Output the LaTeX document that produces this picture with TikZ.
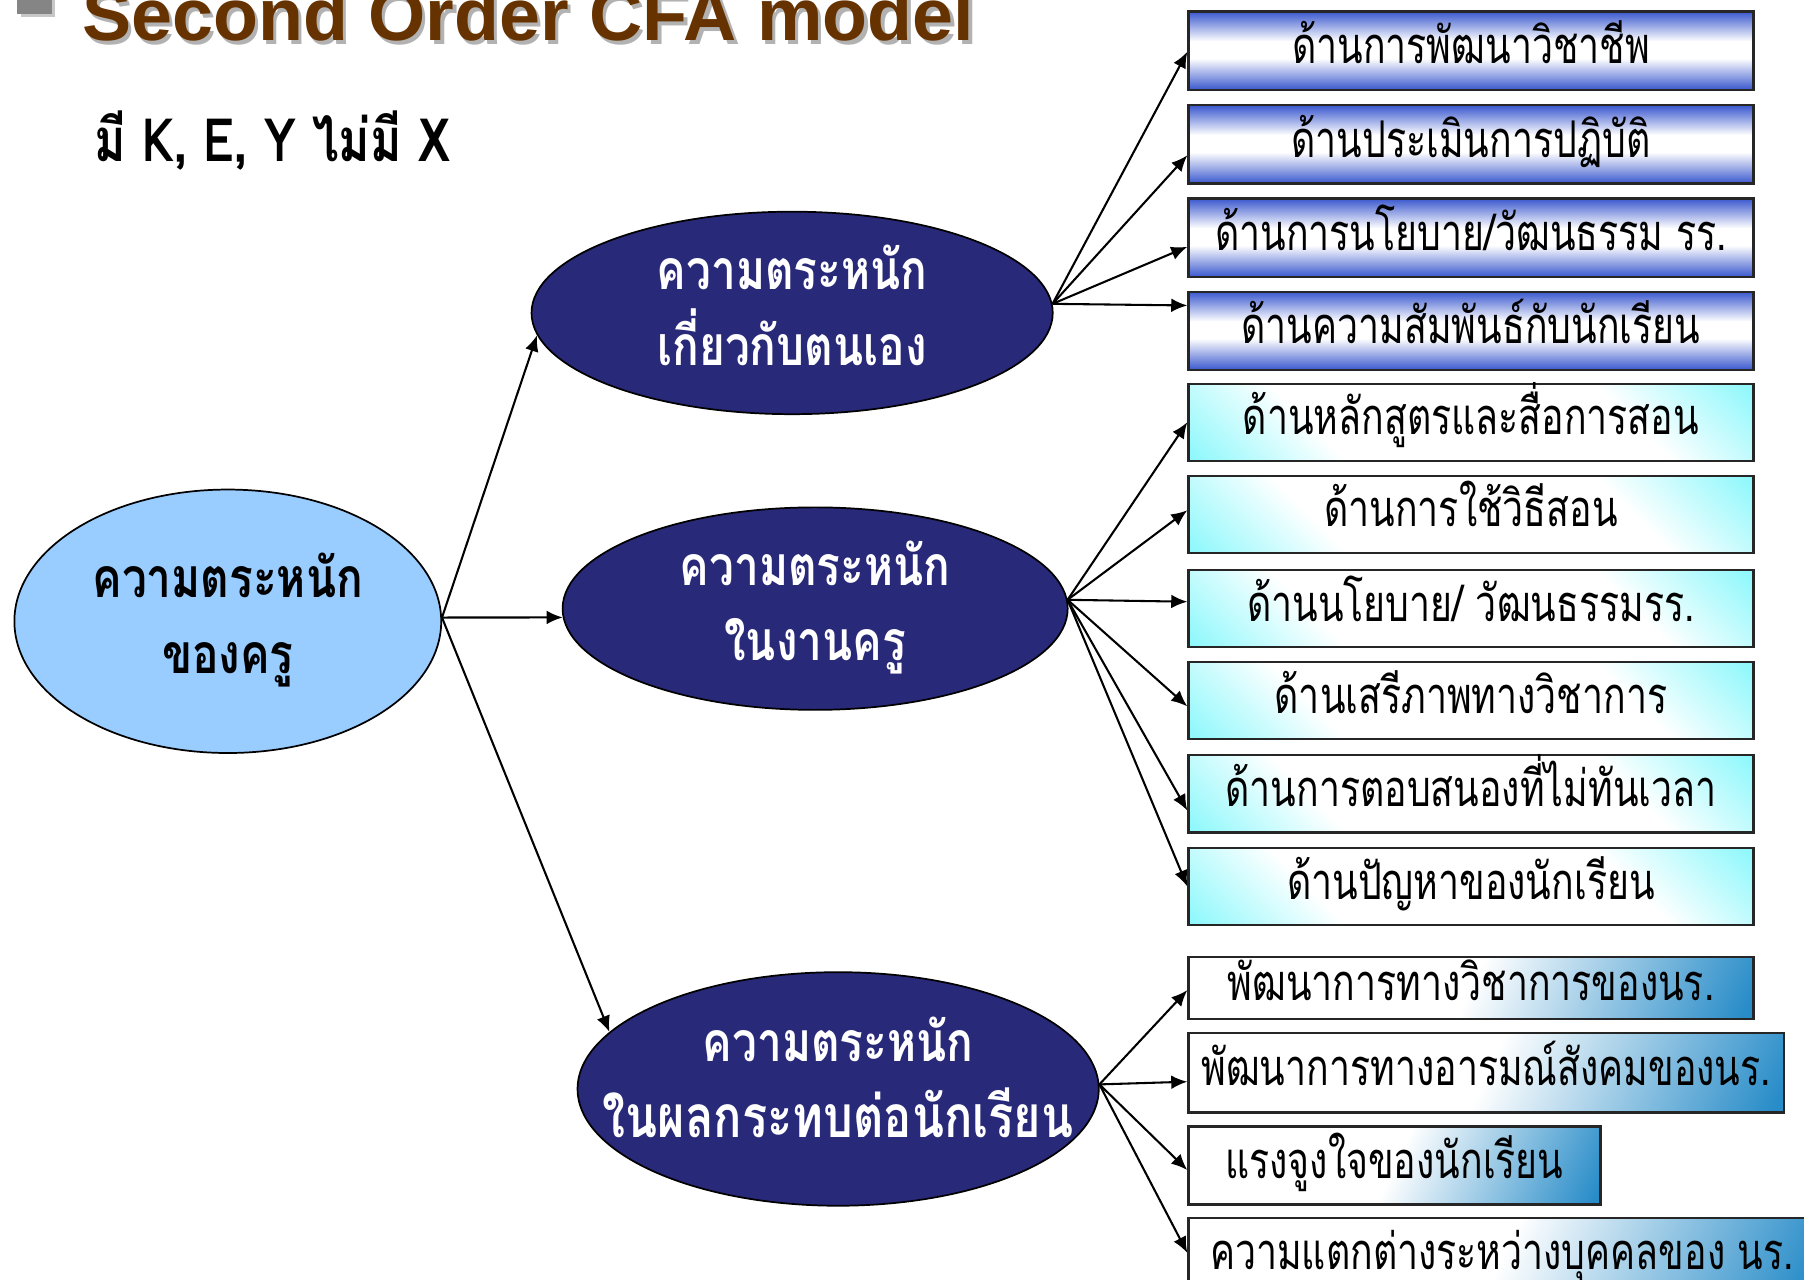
\documentclass[tikz,border=0pt]{standalone}
\usepackage{fontspec}
\usetikzlibrary{arrows.meta,shapes.geometric}
\newfontfamily\thai[Script=Thai,FakeStretch=0.8]{Loma}
\newfontfamily\thaibox[Script=Thai,FakeStretch=0.74]{Loma}
\newfontfamily\titlef{Liberation Sans}
\definecolor{navy}{RGB}{41,41,121}
\definecolor{lblue}{RGB}{153,204,255}
\definecolor{ablue}{RGB}{58,88,206}
\definecolor{bcyan}{RGB}{95,245,250}
\definecolor{cblue}{RGB}{40,140,200}
\definecolor{tbrown}{RGB}{102,51,0}
\pgfdeclarehorizontalshading{cgrad}{100bp}{color(0bp)=(white); color(50bp)=(white); color(82bp)=(cblue); color(100bp)=(cblue)}
\pgfdeclareverticalshading{bgrad}{100bp}{color(0bp)=(bcyan); color(8bp)=(bcyan); color(32bp)=(white); color(68bp)=(white); color(92bp)=(bcyan); color(100bp)=(bcyan)}
\pgfdeclareverticalshading{agrad}{100bp}{color(0bp)=(ablue); color(25bp)=(ablue); color(45bp)=(white); color(56bp)=(white); color(75bp)=(ablue); color(100bp)=(ablue)}
\newcommand\tst{\rule[-7.5pt]{0pt}{27.5pt}}
\tikzset{
 boxbase/.style={rectangle, draw=black!85, line width=1pt, inner sep=0pt,
   font=\thaibox\fontsize{22}{26}\selectfont, text height=15pt, text depth=4pt,
   minimum height=34pt, minimum width=245.5pt},
 abox/.style={boxbase, shading=agrad},
 bbox/.style={boxbase, shading=bgrad, shading angle=-45},
 cbox/.style={boxbase, shading=cgrad, shading angle=-25},
 lat/.style={ellipse, draw=black, line width=0.75pt, inner sep=0pt},
 etext/.style={align=center, inner sep=0pt, font=\thai\bfseries\fontsize{24}{33}\selectfont},
 arr/.style={-{Latex[length=7pt,width=6pt]}, line width=0.9pt},
}
\begin{document}
\begin{tikzpicture}[x=0.5pt,y=-0.5pt]
\clip (0,0) rectangle (1568,1112);
\fill[white] (0,0) rectangle (1568,1112);
% bullet and title
\fill[black!22] (18,-15) rectangle (48,15);
\fill[black!48] (15,-18) rectangle (45,12);
\node[anchor=base west, inner sep=0pt, text=black!30, font=\titlef\bfseries\fontsize{32}{36}\selectfont] (titlesh) at (74,39) {Second Order CFA model};
\node[anchor=base west, inner sep=0pt, text=tbrown, font=\titlef\bfseries\fontsize{32}{36}\selectfont] (title) at (71,35) {Second Order CFA model};
\node[anchor=base west, inner sep=0pt, font=\thai\bfseries\fontsize{26}{30}\selectfont] (sub) at (82,140) {มี K, E, Y ไม่มี X};
% latent ellipses
\node[lat, fill=lblue, minimum width=185.5pt, minimum height=114.5pt] (L) at (198,540) {};
\node[etext] (Lt) at (L.center) {\tst ความตระหนัก\\\tst ของครู};
\node[lat, fill=navy, minimum width=226.5pt, minimum height=88pt] (E1) at (688.5,272) {};
\node[etext, text=white] (E1t) at (E1.center) {\tst ความตระหนัก\\\tst เกี่ยวกับตนเอง};
\node[lat, fill=navy, minimum width=219.5pt, minimum height=88pt] (E2) at (708.5,529) {};
\node[etext, text=white] (E2t) at (E2.center) {\tst ความตระหนัก\\\tst ในงานครู};
\node[lat, fill=navy, minimum width=226.5pt, minimum height=101.5pt] (E3) at (728.5,946.5) {};
\node[etext, text=white] (E3t) at (728.5,943.5) {\tst ความตระหนัก\\\tst \fontsize{25.5}{33}\selectfont ในผลกระทบต่อนักเรียน};
% indicator boxes
\node[abox] (A1) at (1278.5,44) {ด้านการพัฒนาวิชาชีพ};
\node[abox] (A2) at (1278.5,125.5) {ด้านประเมินการปฏิบัติ};
\node[abox] (A3) at (1278.5,206.5) {ด้านการนโยบาย/วัฒนธรรม รร.};
\node[abox] (A4) at (1278.5,287.5) {ด้านความสัมพันธ์กับนักเรียน};
\node[bbox, minimum height=33.5pt] (B1) at (1278.5,367) {ด้านหลักสูตรและสื่อการสอน};
\node[bbox, minimum height=33.5pt] (B2) at (1278.5,447) {ด้านการใช้วิธีสอน};
\node[bbox, minimum height=33.5pt] (B3) at (1278.5,529) {ด้านนโยบาย/ วัฒนธรรมรร.};
\node[bbox, minimum height=33.5pt] (B4) at (1278.5,609) {ด้านเสรีภาพทางวิชาการ};
\node[bbox, minimum height=33.5pt] (B5) at (1278.5,690) {ด้านการตอบสนองที่ไม่ทันเวลา};
\node[bbox, minimum height=33.5pt] (B6) at (1278.5,770.5) {ด้านปัญหาของนักเรียน};
\node[cbox, minimum height=27pt] (C1) at (1278.5,858.6) {พัฒนาการทางวิชาการของนร.};
\node[cbox, minimum width=258.8pt, minimum height=34.5pt] (C2) at (1291.8,932.5) {พัฒนาการทางอารมณ์สังคมของนร.};
\node[cbox, minimum width=179pt] (C3) at (1212,1013) {แรงจูงใจของนักเรียน};
\node[cbox, minimum width=272.5pt] (C4) at (1305.5,1092.7) {ความแตกต่างระหว่างบุคคลของ นร.};
% second-order paths
\draw[arr] (L.1) -- (E1.185);
\draw[arr] (L.1) -- (E2.182);
\draw[arr] (L.1) -- (E3.166);
% first-order loadings
\draw[arr] (E1.2) -- ([yshift=-0.5pt]A1.west);
\draw[arr] (E1.2) -- ([yshift=-4.75pt]A2.west);
\draw[arr] (E1.2) -- ([yshift=-4pt]A3.west);
\draw[arr] (E1.2) -- ([yshift=11pt]A4.west);
\draw[arr] (E2.2) -- (B1.west);
\draw[arr] (E2.2) -- ([yshift=1.75pt]B2.west);
\draw[arr] (E2.2) -- ([yshift=3pt]B3.west);
\draw[arr] (E2.2) -- ([yshift=-2.5pt]B4.west);
\draw[arr] (E2.2) -- ([yshift=-7.25pt]B5.west);
\draw[arr] (E2.2) -- (B6.west);
\draw[arr] (E3.1) -- ([yshift=-1pt]C1.west);
\draw[arr] (E3.1) -- ([yshift=-3.85pt]C2.west);
\draw[arr] (E3.1) -- ([yshift=-2pt]C3.west);
\draw[arr] (E3.1) -- ([yshift=1.85pt]C4.west);
\end{tikzpicture}
\end{document}
